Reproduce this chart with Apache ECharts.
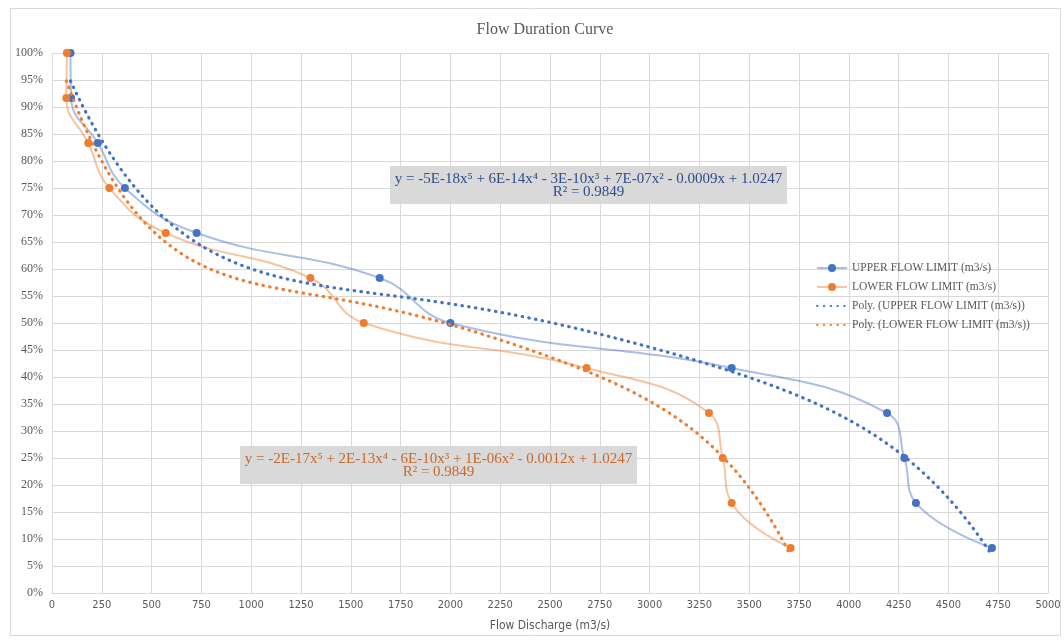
<!DOCTYPE html>
<html>
<head>
<meta charset="utf-8">
<title>Flow Duration Curve</title>
<script src="https://cdn.jsdelivr.net/npm/echarts@6/dist/echarts.min.js"></script>
<style>
  html, body { margin: 0; padding: 0; background: #ffffff; }
  #chart { width: 1064px; height: 641px; }
</style>
</head>
<body>
<div id="chart"></div>
<script>
// Exceedance probability of each flow step (12 ranked steps)
const durations = [1.0, 0.9167, 0.8333, 0.75, 0.6667, 0.5833, 0.5, 0.4167, 0.3333, 0.25, 0.1667, 0.0833];
// Discharge in m3/s for each duration
const upperFlow = [93, 96, 230, 366, 726, 1645, 2000, 3412, 4192, 4279, 4337, 4719];
const lowerFlow = [75, 72, 182, 288, 571, 1297, 1565, 2684, 3298, 3367, 3412, 3708];

const seriesNames = [
  'UPPER FLOW LIMIT (m3/s)',
  'LOWER FLOW LIMIT (m3/s)',
  'Poly. (UPPER FLOW LIMIT (m3/s))',
  'Poly. (LOWER FLOW LIMIT (m3/s))'
];
const upperEquation = 'y = -5E-18x\u2075 + 6E-14x\u2074 - 3E-10x\u00B3 + 7E-07x\u00B2 - 0.0009x + 1.0247\nR\u00B2 = 0.9849';
const lowerEquation = 'y = -2E-17x\u2075 + 2E-13x\u2074 - 6E-10x\u00B3 + 1E-06x\u00B2 - 0.0012x + 1.0247\nR\u00B2 = 0.9849';

// Least-squares polynomial fit (order 5), x scaled to thousands for conditioning
function polyFit(xs, ys, order) {
  const n = order + 1;
  const A = Array.from({ length: n }, () => new Array(n + 1).fill(0));
  for (let i = 0; i < xs.length; i++) {
    const t = xs[i] / 1000;
    const pw = [];
    for (let k = 0; k < 2 * n; k++) pw.push(Math.pow(t, k));
    for (let r = 0; r < n; r++) {
      for (let c = 0; c < n; c++) A[r][c] += pw[r + c];
      A[r][n] += pw[r] * ys[i];
    }
  }
  for (let col = 0; col < n; col++) {
    let piv = col;
    for (let r = col + 1; r < n; r++) if (Math.abs(A[r][col]) > Math.abs(A[piv][col])) piv = r;
    [A[col], A[piv]] = [A[piv], A[col]];
    for (let r = 0; r < n; r++) {
      if (r === col) continue;
      const f = A[r][col] / A[col][col];
      for (let c = col; c <= n; c++) A[r][c] -= f * A[col][c];
    }
  }
  return A.map((row, i) => row[n] / row[i]);
}
function trendPoints(xs, ys) {
  const coef = polyFit(xs, ys, 5);
  const lo = Math.min(...xs), hi = Math.max(...xs);
  const pts = [];
  const steps = 240;
  for (let i = 0; i <= steps; i++) {
    const x = lo + (hi - lo) * i / steps;
    const t = x / 1000;
    let y = 0;
    for (let k = coef.length - 1; k >= 0; k--) y = y * t + coef[k];
    pts.push([x, y]);
  }
  return pts;
}

const pair = (xs) => xs.map((x, i) => [x, durations[i]]);

const BLUE = '#4472C4';
const ORANGE = '#ED7D31';
const GREY_TEXT = '#595959';
const SERIF = "'Liberation Serif', 'Times New Roman', serif";
const NARROW = "'Liberation Sans Narrow', 'DejaVu Sans Condensed', 'Liberation Sans', sans-serif";

const chart = echarts.init(document.getElementById('chart'), null, { renderer: 'canvas' });

// Trendline legend entries show only their dotted line (marker hidden)
const legendData = [
  { name: seriesNames[0] },
  { name: seriesNames[1] },
  { name: seriesNames[2], itemStyle: { opacity: 0 } },
  { name: seriesNames[3], itemStyle: { opacity: 0 } }
];

function equationBox(left, top, text, color) {
  return {
    type: 'group',
    left: left, top: top,
    z: 100,
    children: [
      { type: 'rect', z: 100, shape: { x: 0, y: 0, width: 397, height: 38 }, style: { fill: '#d9d9d9' } },
      {
        type: 'text', z: 101,
        x: 198.5, y: 6,
        style: {
          text: text, fill: color, align: 'center',
          fontFamily: SERIF, fontSize: 15, lineHeight: 13.5
        }
      }
    ]
  };
}

chart.setOption({
  animation: false,
  backgroundColor: '#ffffff',
  title: {
    text: 'Flow Duration Curve',
    left: 540,
    top: 17,
    textAlign: 'center',
    textStyle: { fontFamily: SERIF, fontSize: 16, fontWeight: 'normal', color: GREY_TEXT }
  },
  grid: { left: 52, right: 16, top: 53, bottom: 48, containLabel: false },
  legend: {
    orient: 'vertical',
    left: 811,
    top: 257,
    itemWidth: 30,
    itemHeight: 10,
    itemGap: 7,
    data: legendData,
    textStyle: { fontFamily: SERIF, fontSize: 11.5, color: GREY_TEXT }
  },
  xAxis: {
    type: 'value',
    min: 0,
    max: 5000,
    interval: 250,
    name: 'Flow Discharge (m3/s)',
    nameLocation: 'middle',
    nameGap: 27,
    nameTextStyle: { fontFamily: NARROW, fontSize: 12, color: GREY_TEXT },
    axisLine: { show: true, lineStyle: { color: '#d9d9d9', width: 1 } },
    axisTick: { show: false },
    axisLabel: { margin: 7, fontFamily: NARROW, fontSize: 11, color: GREY_TEXT, formatter: (v) => String(v) },
    splitLine: { show: true, lineStyle: { color: '#d9d9d9', width: 1 } }
  },
  yAxis: {
    type: 'value',
    min: 0,
    max: 1,
    interval: 0.05,
    axisLine: { show: false },
    axisTick: { show: false },
    axisLabel: {
      margin: 9,
      fontFamily: SERIF,
      fontSize: 12,
      color: GREY_TEXT,
      formatter: (v) => Math.round(v * 100) + '%'
    },
    splitLine: { show: true, lineStyle: { color: '#d9d9d9', width: 1 } }
  },
  series: [
    {
      name: seriesNames[0],
      type: 'line',
      data: pair(upperFlow),
      smooth: 0.45,
      symbol: 'circle',
      symbolSize: 8,
      itemStyle: { color: BLUE },
      lineStyle: { color: 'rgba(68,114,196,0.45)', width: 2 },
      z: 2
    },
    {
      name: seriesNames[1],
      type: 'line',
      data: pair(lowerFlow),
      smooth: 0.45,
      symbol: 'circle',
      symbolSize: 8,
      itemStyle: { color: ORANGE },
      lineStyle: { color: 'rgba(237,125,49,0.45)', width: 2 },
      z: 2
    },
    {
      name: seriesNames[2],
      type: 'line',
      data: trendPoints(upperFlow, durations),
      showSymbol: false,
      symbol: 'none',
      itemStyle: { color: BLUE },
      lineStyle: { color: BLUE, width: 3.2, type: [0.5, 6.3], cap: 'round' },
      z: 3
    },
    {
      name: seriesNames[3],
      type: 'line',
      data: trendPoints(lowerFlow, durations),
      showSymbol: false,
      symbol: 'none',
      itemStyle: { color: ORANGE },
      lineStyle: { color: ORANGE, width: 3.2, type: [0.5, 6.3], cap: 'round' },
      z: 3
    }
  ],
  graphic: [
    {
      type: 'rect',
      left: 8, top: 6,
      shape: { width: 1050, height: 627 },
      style: { fill: 'none', stroke: '#d9d9d9', lineWidth: 1 },
      silent: true,
      z: -1
    },
    equationBox(390, 166, upperEquation, '#2f4c8c'),
    equationBox(240, 446, lowerEquation, '#c46a2e')
  ]
});
</script>
</body>
</html>
